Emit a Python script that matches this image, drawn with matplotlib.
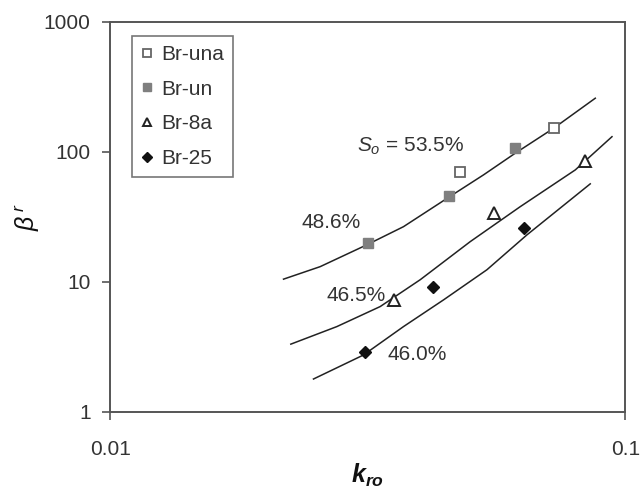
import numpy as np
import matplotlib
matplotlib.use("Agg")
import matplotlib.pyplot as plt

plt.rcParams['font.family'] = ['Liberation Sans', 'DejaVu Sans']
plt.rcParams['mathtext.fontset'] = 'custom'
plt.rcParams['mathtext.rm'] = 'Liberation Sans'
plt.rcParams['mathtext.it'] = 'Liberation Sans:italic'
plt.rcParams['mathtext.bf'] = 'Liberation Sans:bold'
plt.rcParams['mathtext.bfit'] = 'Liberation Sans:italic:bold'

# measured points
kro_una = [0.0478, 0.0728]
beta_una = [70.5, 154]
kro_un = [0.0316, 0.0454, 0.0610]
beta_un = [19.8, 45.9, 108]
kro_8a = [0.0355, 0.0557, 0.0836]
beta_8a = [7.27, 34.1, 85.8]
kro_25 = [0.0313, 0.0423, 0.0637]
beta_25 = [2.88, 9.1, 26.2]

# fitted curves
curve_hi_x = [0.02171, 0.02557, 0.03151, 0.03711, 0.04539, 0.05307, 0.06114, 0.07258, 0.08745]
curve_hi_y = [10.5, 13.1, 19.3, 26.6, 44.7, 66.6, 97.7, 152, 259]
curve_mid_x = [0.02243, 0.02755, 0.03344, 0.0400, 0.0500, 0.06252, 0.07997, 0.09423]
curve_mid_y = [3.32, 4.53, 6.46, 10.4, 20.4, 37.9, 72.7, 131]
curve_lo_x = [0.02482, 0.03104, 0.03711, 0.04438, 0.05388, 0.06443, 0.08551]
curve_lo_y = [1.79, 2.74, 4.53, 7.27, 12.4, 23.0, 56.8]

txt = '#333333'
fig = plt.figure(figsize=(6.4, 4.88), dpi=100)
ax = fig.add_axes([0.172, 0.156, 0.805, 0.799])

for cx, cy in [(curve_hi_x, curve_hi_y), (curve_mid_x, curve_mid_y), (curve_lo_x, curve_lo_y)]:
    ax.plot(cx, cy, color='#222222', lw=1.1)

ax.plot(kro_una, beta_una, 's', ms=7.5, mfc='white', mec='#666666', mew=1.3, label='Br-una')
ax.plot(kro_un, beta_un, 's', ms=7.5, mfc='#7f7f7f', mec='#7f7f7f', label='Br-un')
ax.plot(kro_8a, beta_8a, '^', ms=8, mfc='white', mec='#222222', mew=1.4, label='Br-8a')
ax.plot(kro_25, beta_25, 'D', ms=6.5, mfc='#111111', mec='#111111', label='Br-25')

ax.set_xscale('log')
ax.set_yscale('log')
ax.set_xlim(0.01, 0.1)
ax.set_ylim(1, 1000)
ax.set_xticks([0.01, 0.1])
ax.set_xticklabels(['0.01', '0.1'])
ax.set_yticks([1, 10, 100, 1000])
ax.set_yticklabels(['1', '10', '100', '1000'])
ax.minorticks_off()
ax.tick_params(direction='out', length=6, width=1.2, color='#555555',
               labelsize=15, labelcolor=txt, pad=8)
ax.tick_params(axis='x', pad=14)
for s in ax.spines.values():
    s.set_color('#555555')
    s.set_linewidth(1.4)

ax.text(0.03013, 109.8, r'$S_o$ = 53.5%', fontsize=15, color=txt, va='center')
ax.text(0.02357, 28.6, '48.6%', fontsize=15, color=txt, va='center')
ax.text(0.02635, 7.8, '46.5%', fontsize=15, color=txt, va='center')
ax.text(0.0345, 2.78, '46.0%', fontsize=15, color=txt, va='center')

ax.set_xlabel(r'$\mathbfit{k}_{\mathbfit{ro}}$', fontsize=18, color='#111111', labelpad=2)
ax.set_ylabel(r'$\beta^{\,r}$', fontsize=18, color='#111111', labelpad=1)

leg = ax.legend(loc='upper left', bbox_to_anchor=(0.042, 0.965), fontsize=15,
                frameon=True, fancybox=False, borderpad=0.45, labelspacing=0.75,
                handlelength=0.6, handletextpad=0.35, markerscale=0.8, borderaxespad=0)
leg.get_frame().set_edgecolor('#555555')
leg.get_frame().set_linewidth(1.2)
for t in leg.get_texts():
    t.set_color(txt)

fig.savefig('out.png', dpi=100)
